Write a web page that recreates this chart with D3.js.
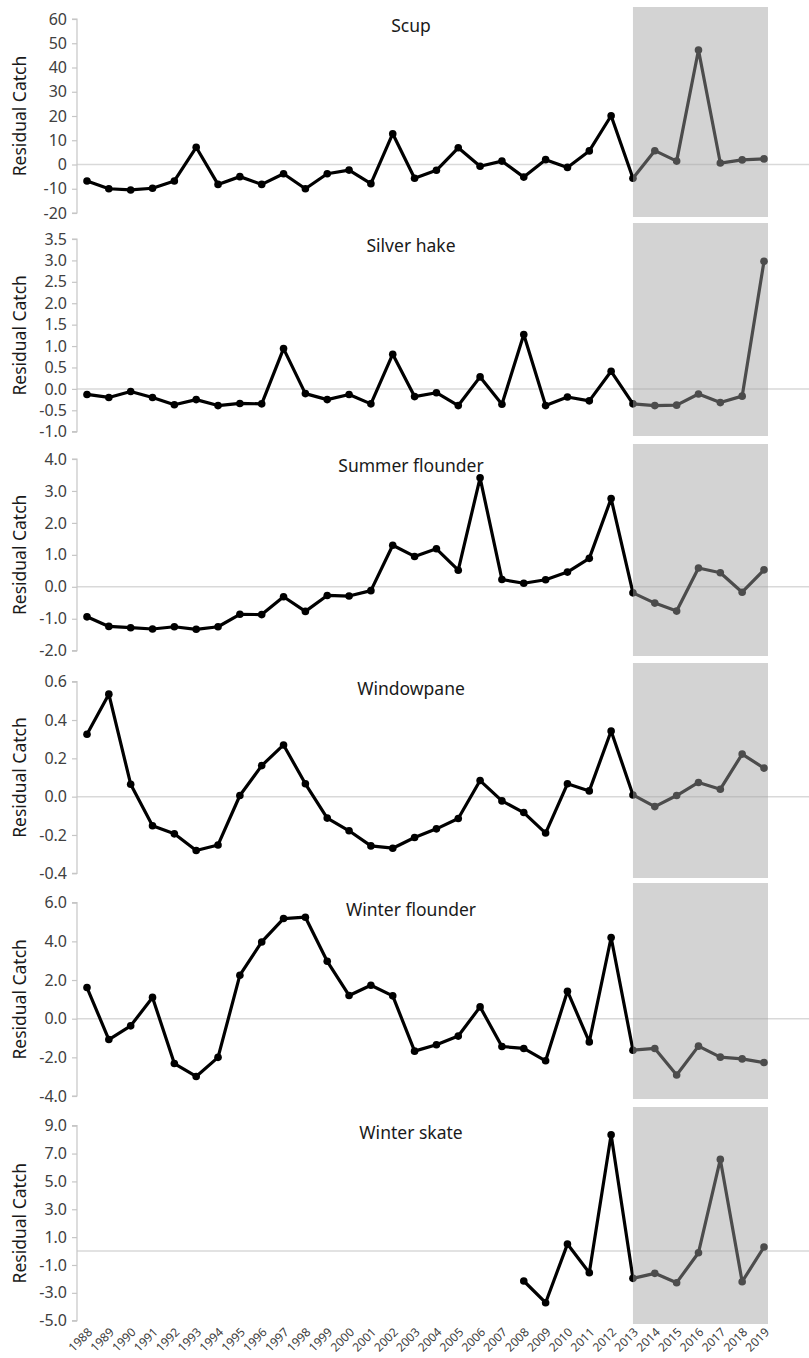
<!DOCTYPE html>
<html>
<head>
<meta charset="utf-8">
<script src="https://cdn.jsdelivr.net/npm/d3@7"></script>
<style>
  body { margin: 0; background: #fff; }
  svg { display: block; font-family: 'Noto Sans', 'Open Sans', sans-serif; }
</style>
</head>
<body>
<svg id="chart"></svg>
<script>
const years = [1988, 1989, 1990, 1991, 1992, 1993, 1994, 1995, 1996, 1997, 1998,
  1999, 2000, 2001, 2002, 2003, 2004, 2005, 2006, 2007, 2008, 2009, 2010, 2011,
  2012, 2013, 2014, 2015, 2016, 2017, 2018, 2019]

const titles = ['Scup', 'Silver hake', 'Summer flounder', 'Windowpane', 'Winter flounder', 'Winter skate']

const scup = [-6.8, -10.0, -10.5, -9.8, -6.8, 7.1, -8.2, -5.0, -8.2, -3.8, -10.0,
  -3.8, -2.3, -7.9, 12.7, -5.7, -2.4, 6.9, -0.7, 1.4, -5.2, 2.0, -1.2, 5.6,
  20.1, -5.7, 5.7, 1.4, 47.2, 0.6, 1.9, 2.3]
const silverHake = [-0.13, -0.20, -0.06, -0.20, -0.37, -0.25, -0.39, -0.34, -0.35, 0.94, -0.11,
  -0.25, -0.13, -0.35, 0.81, -0.18, -0.09, -0.39, 0.28, -0.36, 1.27, -0.39, -0.19, -0.28,
  0.41, -0.35, -0.39, -0.38, -0.12, -0.32, -0.17, 2.98]
const summerFlounder = [-0.94, -1.24, -1.28, -1.32, -1.25, -1.33, -1.25, -0.86, -0.87, -0.31, -0.77,
  -0.27, -0.29, -0.12, 1.30, 0.95, 1.19, 0.52, 3.41, 0.23, 0.11, 0.22, 0.46, 0.89,
  2.76, -0.19, -0.51, -0.76, 0.59, 0.44, -0.17, 0.53]
const windowpane = [0.326, 0.535, 0.065, -0.152, -0.194, -0.281, -0.252, 0.006, 0.162, 0.270, 0.067,
  -0.112, -0.178, -0.257, -0.269, -0.213, -0.168, -0.114, 0.084, -0.022, -0.083, -0.190, 0.067, 0.030,
  0.343, 0.009, -0.052, 0.006, 0.074, 0.039, 0.222, 0.149]
const winterFlounder = [1.61, -1.08, -0.37, 1.10, -2.32, -2.99, -2.00, 2.25, 3.97, 5.18, 5.25,
  2.97, 1.20, 1.73, 1.18, -1.68, -1.35, -0.90, 0.61, -1.44, -1.54, -2.18, 1.42, -1.20,
  4.20, -1.63, -1.54, -2.91, -1.42, -1.99, -2.08, -2.27]
const winterSkate = [null, null, null, null, null, null, null, null, null, null, null,
  null, null, null, null, null, null, null, null, null, -2.15, -3.71, 0.50, -1.56,
  8.35, -1.96, -1.60, -2.27, -0.12, 6.58, -2.20, 0.29]

const series = [scup, silverHake, summerFlounder, windowpane, winterFlounder, winterSkate]

// y tick values for each panel
const scupTicks = [-20, -10, 0, 10, 20, 30, 40, 50, 60]
const silverHakeTicks = [-1.0, -0.5, 0.0, 0.5, 1.0, 1.5, 2.0, 2.5, 3.0, 3.5]
const summerFlounderTicks = [-2.0, -1.0, 0.0, 1.0, 2.0, 3.0, 4.0]
const windowpaneTicks = [-0.4, -0.2, 0.0, 0.2, 0.4, 0.6]
const winterFlounderTicks = [-4.0, -2.0, 0.0, 2.0, 4.0, 6.0]
const winterSkateTicks = [-5.0, -3.0, -1.0, 1.0, 3.0, 5.0, 7.0, 9.0]
const tickSets = [scupTicks, silverHakeTicks, summerFlounderTicks, windowpaneTicks, winterFlounderTicks, winterSkateTicks]
const tickDigits = [0, 1, 1, 1, 1, 1]

const shadeStart = 2013

// layout (pixels)
const W = 809
const H = 1358
const axisX = 77
const layout = [
  { boxTop: 7, boxBottom: 217, top: 19, bottom: 213 },
  { boxTop: 223, boxBottom: 436, top: 239, bottom: 431.7 },
  { boxTop: 444, boxBottom: 656, top: 459, bottom: 650.7 },
  { boxTop: 663, boxBottom: 878, top: 681.7, bottom: 873.3 },
  { boxTop: 883, boxBottom: 1099, top: 902.7, bottom: 1096 },
  { boxTop: 1107, boxBottom: 1324, top: 1125.7, bottom: 1320.7 },
]

const svg = d3.select('#chart').attr('width', W).attr('height', H)

const x = d3.scalePoint().domain(years).range([87, 764])

series.forEach((vals, i) => drawPanel(i, vals))
drawXAxis()

function drawPanel(i, vals) {
  const L = layout[i]
  const ticks = tickSets[i]
  const y = d3.scaleLinear()
    .domain([d3.min(ticks), d3.max(ticks)])
    .range([L.bottom, L.top])
  const g = svg.append('g')

  // zero line
  g.append('line')
    .attr('x1', axisX).attr('x2', W)
    .attr('y1', y(0)).attr('y2', y(0))
    .attr('stroke', '#d9d9d9').attr('stroke-width', 1.5)

  const yaxis = d3.axisLeft(y)
    .tickValues(ticks)
    .tickSize(5)
    .tickPadding(5)
    .tickFormat((d) => d.toFixed(tickDigits[i]))
  const ag = g.append('g')
    .attr('transform', `translate(${axisX},0)`)
    .call(yaxis)
  ag.select('.domain').attr('stroke', '#c6c6c6').attr('stroke-width', 1.2)
    .attr('d', `M-5,${L.top}H0V${L.bottom}H-5`)
  ag.selectAll('.tick line').attr('stroke', '#c6c6c6').attr('stroke-width', 1.2)
  ag.selectAll('.tick text')
    .attr('fill', '#404040')
    .style('font-size', '16px')
    .style('font-family', "'Noto Sans', sans-serif")

  const pts = years.map((yr, k) => ({ yr, v: vals[k] })).filter((d) => d.v !== null)
  const line = d3.line().x((d) => x(d.yr)).y((d) => y(d.v))

  g.append('path')
    .datum(pts)
    .attr('d', line)
    .attr('fill', 'none')
    .attr('stroke', '#000')
    .attr('stroke-width', 3.2)
    .attr('stroke-linejoin', 'round')

  g.selectAll('circle')
    .data(pts)
    .enter()
    .append('circle')
    .attr('cx', (d) => x(d.yr))
    .attr('cy', (d) => y(d.v))
    .attr('r', 3.8)
    .attr('fill', '#000')

  // translucent shading over the recent years
  g.append('rect')
    .attr('x', x(shadeStart))
    .attr('y', L.boxTop)
    .attr('width', x(years[years.length - 1]) + 4 - x(shadeStart))
    .attr('height', L.boxBottom - L.boxTop)
    .attr('fill', '#a2a2a2')
    .attr('fill-opacity', 0.47)

  g.append('text')
    .attr('x', 411)
    .attr('y', L.top + 13)
    .attr('text-anchor', 'middle')
    .attr('fill', '#1a1a1a')
    .style('font-size', '17.5px')
    .text(titles[i])

  g.append('text')
    .attr('transform', `translate(26,${(L.top + L.bottom) / 2}) rotate(-90)`)
    .attr('text-anchor', 'middle')
    .attr('fill', '#1a1a1a')
    .style('font-size', '17.5px')
    .text('Residual Catch')
}

function drawXAxis() {
  svg.append('g')
    .selectAll('text')
    .data(years)
    .enter()
    .append('text')
    .attr('transform', (d) => `translate(${x(d) + 6},1333) rotate(-45)`)
    .attr('text-anchor', 'end')
    .attr('fill', '#404040')
    .style('font-size', '12px')
    .text((d) => d)
}
</script>
</body>
</html>
